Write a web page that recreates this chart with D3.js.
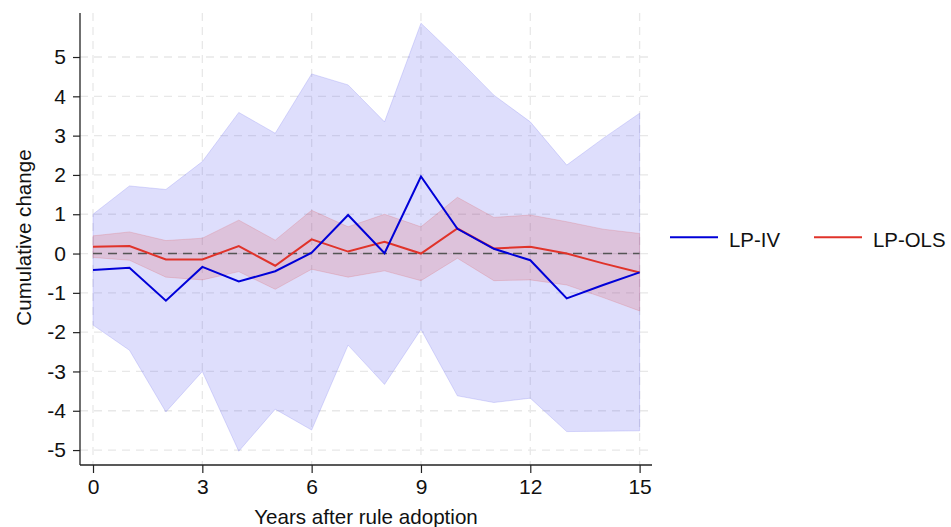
<!DOCTYPE html>
<html>
<head>
<meta charset="utf-8">
<script src="https://cdn.jsdelivr.net/npm/d3@7"></script>
<style>
  html, body { margin: 0; padding: 0; background: #fff; }
  svg { display: block; font-family: "Liberation Sans", Arial, Helvetica, sans-serif; }
</style>
</head>
<body>
<svg id="chart" width="951" height="527"></svg>
<script>
// Horizon (years after adoption)
const years = [0, 1, 2, 3, 4, 5, 6, 7, 8, 9, 10, 11, 12, 13, 14, 15];

// LP-IV point estimates and confidence band
const ivEstimate = [-0.42, -0.36, -1.2, -0.34, -0.71, -0.45, 0.02, 0.98, 0.01, 1.96, 0.63, 0.12, -0.17, -1.14, -0.8, -0.48];
const ivUpper    = [1.0, 1.72, 1.63, 2.34, 3.59, 3.06, 4.57, 4.29, 3.35, 5.86, 4.97, 4.03, 3.35, 2.25, 2.93, 3.57];
const ivLower    = [-1.82, -2.46, -4.03, -3.0, -5.03, -3.96, -4.49, -2.33, -3.33, -1.93, -3.62, -3.79, -3.68, -4.53, -4.52, -4.51];

// LP-OLS point estimates and confidence band
const olsEstimate = [0.17, 0.19, -0.15, -0.15, 0.19, -0.31, 0.36, 0.05, 0.3, 0.0, 0.64, 0.13, 0.17, 0.0, -0.25, -0.48];
const olsUpper    = [0.45, 0.55, 0.33, 0.39, 0.85, 0.34, 1.1, 0.68, 1.0, 0.68, 1.43, 0.92, 0.98, 0.81, 0.62, 0.51];
const olsLower    = [-0.1, -0.17, -0.6, -0.67, -0.46, -0.91, -0.4, -0.6, -0.44, -0.69, -0.12, -0.69, -0.67, -0.8, -1.12, -1.46];

const xTicks = [0, 3, 6, 9, 12, 15];
const yTicks = [-5, -4, -3, -2, -1, 0, 1, 2, 3, 4, 5];

const seriesNames = ["LP-IV", "LP-OLS"];
const lineColors = ["#0000d8", "#e0332a"];

(function draw() {
  const svg = d3.select("#chart");
  const plotLeft = 80, plotRight = 652, plotTop = 13, plotBottom = 465;

  const x = d3.scaleLinear().domain([-0.357, 15.34]).range([plotLeft, plotRight]);
  const y = d3.scaleLinear().domain([-5.38, 6.12]).range([plotBottom, plotTop]);

  // grid
  const grid = svg.append("g");
  grid.selectAll("line.h").data(yTicks).join("line")
    .attr("class", "h")
    .attr("x1", plotLeft).attr("x2", plotRight)
    .attr("y1", d => y(d)).attr("y2", d => y(d))
    .attr("stroke", "#e8e8e8").attr("stroke-width", 1.3)
    .attr("stroke-dasharray", "8,6");
  grid.selectAll("line.v").data(xTicks).join("line")
    .attr("class", "v")
    .attr("x1", d => x(d)).attr("x2", d => x(d))
    .attr("y1", plotTop).attr("y2", plotBottom)
    .attr("stroke", "#e8e8e8").attr("stroke-width", 1.3)
    .attr("stroke-dasharray", "8,6");

  // confidence bands
  const band = (lo, hi) => d3.area()
    .x((d, i) => x(years[i]))
    .y0((d, i) => y(lo[i]))
    .y1((d, i) => y(hi[i]))(years);

  svg.append("path").attr("d", band(ivLower, ivUpper))
    .attr("fill", "rgb(90,90,240)").attr("fill-opacity", 0.2)
    .attr("stroke", "rgb(120,120,240)").attr("stroke-opacity", 0.25);
  svg.append("path").attr("d", band(olsLower, olsUpper))
    .attr("fill", "rgb(220,60,60)").attr("fill-opacity", 0.17)
    .attr("stroke", "rgb(220,80,80)").attr("stroke-opacity", 0.2);

  // zero reference line
  svg.append("line")
    .attr("x1", x(0)).attr("x2", x(15))
    .attr("y1", y(0)).attr("y2", y(0))
    .attr("stroke", "#555").attr("stroke-width", 1.6)
    .attr("stroke-dasharray", "9,6");

  // estimate lines
  const line = vals => d3.line().x((d, i) => x(years[i])).y((d, i) => y(vals[i]))(years);
  svg.append("path").attr("d", line(olsEstimate))
    .attr("fill", "none").attr("stroke", lineColors[1]).attr("stroke-width", 2);
  svg.append("path").attr("d", line(ivEstimate))
    .attr("fill", "none").attr("stroke", lineColors[0]).attr("stroke-width", 2);

  // axes (plain hyphen for negative labels)
  const fmt = d => String(d);
  const yAxis = svg.append("g").attr("transform", `translate(${plotLeft},0)`)
    .call(d3.axisLeft(y).tickValues(yTicks).tickSize(7).tickPadding(7).tickFormat(fmt));
  const xAxis = svg.append("g").attr("transform", `translate(0,${plotBottom})`)
    .call(d3.axisBottom(x).tickValues(xTicks).tickSize(8).tickPadding(6).tickFormat(fmt));
  [yAxis, xAxis].forEach(a => {
    a.select(".domain").attr("stroke", "#222").attr("stroke-width", 1.3);
    a.selectAll(".tick line").attr("stroke", "#222").attr("stroke-width", 1.2);
    a.selectAll(".tick text").attr("font-size", 21).attr("fill", "#111")
      .attr("font-family", "'Liberation Sans', Arial, sans-serif");
  });
  yAxis.select(".domain").attr("d", `M0,${plotTop}V${plotBottom}`);
  xAxis.select(".domain").attr("d", `M${plotLeft},0H${plotRight}`);

  // axis titles
  svg.append("text")
    .attr("x", (plotLeft + plotRight) / 2).attr("y", 523.5)
    .attr("text-anchor", "middle").attr("font-size", 20.6).attr("fill", "#111")
    .text("Years after rule adoption");
  svg.append("text")
    .attr("transform", "translate(31,237.5) rotate(-90)")
    .attr("text-anchor", "middle").attr("font-size", 20.6).attr("fill", "#111")
    .text("Cumulative change");

  // legend
  const legend = svg.append("g");
  const legendX = [670, 814];
  seriesNames.forEach((name, i) => {
    legend.append("line")
      .attr("x1", legendX[i]).attr("x2", legendX[i] + 48)
      .attr("y1", 237.3).attr("y2", 237.3)
      .attr("stroke", lineColors[i]).attr("stroke-width", 2);
    legend.append("text")
      .attr("x", legendX[i] + 59).attr("y", 246.5)
      .attr("font-size", 20.4).attr("fill", "#111")
      .text(name);
  });
})();
</script>
</body>
</html>
